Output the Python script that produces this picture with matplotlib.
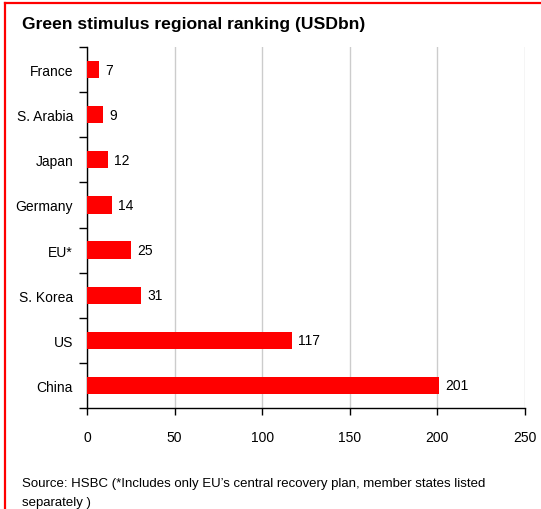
import matplotlib
matplotlib.use('Agg')
import matplotlib.pyplot as plt
from matplotlib.lines import Line2D
import numpy as np

plt.rcParams['font.family'] = ['Liberation Sans', 'DejaVu Sans']

# Data (top to bottom as shown)
countries = ['France', 'S. Arabia', 'Japan', 'Germany', 'EU*', 'S. Korea', 'US', 'China']
values = [7, 9, 12, 14, 25, 31, 117, 201]
x_ticks = [0, 50, 100, 150, 200, 250]

W, H = 541, 510
fig = plt.figure(figsize=(W / 100, H / 100), dpi=100)
ax = fig.add_axes([87 / W, 1 - 409 / H, (525 - 87) / W, (409 - 48) / H])

pos = np.arange(len(countries))
ax.barh(pos, values, height=0.38, color='#ff0000', zorder=3)
for p, v in zip(pos, values):
    ax.text(v + 3.5, p, str(v), va='center', ha='left', fontsize=10)

ax.set_ylim(len(countries) - 0.5, -0.5)
ax.set_xlim(0, 250)
ax.set_xticks(x_ticks)
ax.set_xticklabels([str(t) for t in x_ticks], fontsize=10)
ax.tick_params(axis='x', length=5, width=1, pad=11, direction='out')

# category labels as minor ticks, boundaries as major ticks
ax.set_yticks(np.arange(len(countries) + 1) - 0.5)
ax.set_yticklabels([])
ax.set_yticks(pos, minor=True)
ax.set_yticklabels(countries, minor=True, fontsize=10)
ax.tick_params(axis='y', which='major', length=6, width=1, direction='out')
ax.tick_params(axis='y', which='minor', length=0, pad=10)

ax.grid(axis='x', color='#cccccc', linewidth=1, zorder=0)
for s in ['top', 'right']:
    ax.spines[s].set_visible(False)
ax.spines['left'].set_linewidth(1)
ax.spines['bottom'].set_linewidth(1)

fig.text(22 / W, 1 - 24 / H, 'Green stimulus regional ranking (USDbn)',
         fontsize=12.6, fontweight='bold', va='center', ha='left')
fig.text(22 / W, 1 - 484 / H,
         'Source: HSBC (*Includes only EU\u2019s central recovery plan, member states listed',
         fontsize=9.5, va='center', ha='left')
fig.text(22 / W, 1 - 503 / H, 'separately )', fontsize=9.5, va='center', ha='left')

# red frame on left and top
fig.add_artist(Line2D([5 / W, 5 / W], [0, 1 - 4 / H], color='#ff0000', linewidth=1.6,
                      transform=fig.transFigure))
fig.add_artist(Line2D([5 / W, 1], [1 - 4 / H, 1 - 4 / H], color='#ff0000', linewidth=1.6,
                      transform=fig.transFigure))

fig.savefig('out.png', dpi=100)
